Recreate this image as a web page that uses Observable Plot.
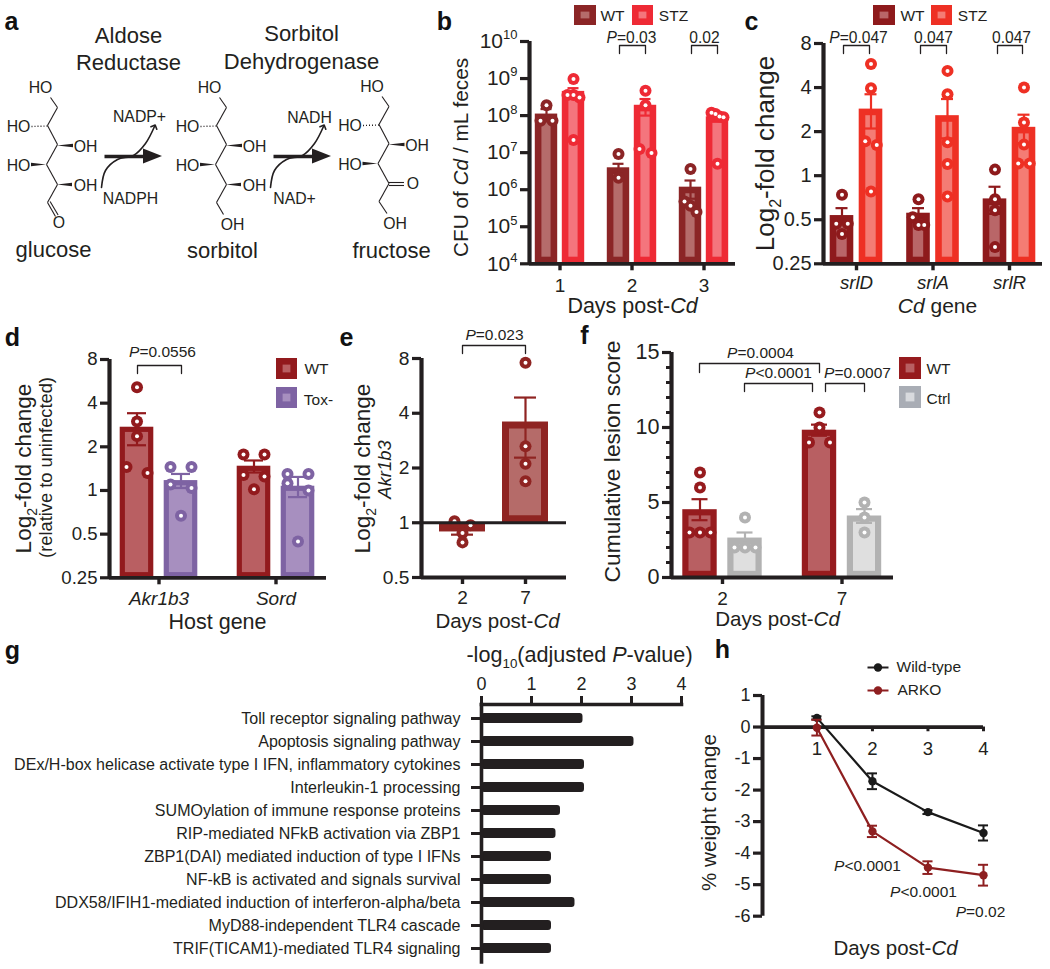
<!DOCTYPE html>
<html><head><meta charset="utf-8">
<script src="https://cdn.jsdelivr.net/npm/d3@7"></script>
<script src="https://cdn.jsdelivr.net/npm/@observablehq/plot@0.6"></script>
<style>
html,body{margin:0;padding:0;background:#fff}
#page{position:relative;width:1050px;height:969px;overflow:hidden;font-family:"Liberation Sans",Arial,sans-serif}
#page svg{position:absolute;overflow:visible;background:none}
</style></head><body><div id="page"></div>
<script>
// ---------- data ----------
const bDays = ["1","2","3"];
const bWTMean = [1.1e8,3.9e6,1.17e6];
const bWTSem = [4e7,1.1e6,6e5];
const bWTPoints = [[1.9e8,7.3e7,7.3e7],[9.2e6,2.1e6],[3.6e6,4.8e5,3.7e5,2.5e5]];
const bSTZMean = [4.5e8,1.9e8,9.3e7];
const bSTZSem = [1e8,9e7,1.7e7];
const bSTZPoints = [[9.7e8,3.6e8,3.6e8,3.1e8,2.2e7],[4.7e8,1.9e8,1.26e7,9.8e6],[1.2e8,1.1e8,9.5e7,9e7,5e6]];

const cGenes = ["*srlD*","*srlA*","*srlR*"];
const cWTMean = [0.534,0.554,0.694];
const cWTSem = [0.066,0.046,0.146];
const cWTPoints = [[0.74,0.47,0.47,0.40],[0.69,0.52,0.46,0.46],[1.1,0.69,0.58,0.325]];
const cSTZMean = [2.85,2.57,2.14];
const cSTZSem = [0.75,0.77,0.47];
const cSTZPoints = [[5.8,3.95,1.72,1.62,0.78],[5.2,3.6,1.69,1.2,0.72],[4.0,2.31,1.63,1.21,1.21]];

const dGenes = ["*Akr1b3*","*Sord*"];
const dWTMean = [2.73,1.47];
const dWTSem = [0.68,0.14];
const dWTPoints = [[5.15,2.99,2.37,1.45,1.32],[1.77,1.77,1.28,1.25,1.02]];
const dToxMean = [1.17,1.07];
const dToxSem = [0.13,0.17];
const dToxPoints = [[1.45,1.45,1.1,1.04,0.67],[1.3,1.3,1.12,1.0,0.445]];

const eDays = ["2","7"];
const eMean = [0.89,3.58];
const eSem = [0.03,1.3];
const ePoints = [[1.02,0.97,0.877,0.78],[7.57,2.63,2.11,1.69]];

const fDays = ["2","7"];
const fWTMean = [4.52,9.82];
const fWTSem = [0.7,0.37];
const fWTPoints = [[7,6,3,3,3],[11,10,9,9]];
const fCtrlMean = [2.63,4.1];
const fCtrlSem = [0.37,0.46];
const fCtrlPoints = [[4,2,2,2],[5,4,3]];

const gTerms = ["Toll receptor signaling pathway","Apoptosis signaling pathway","DEx/H-box helicase activate type I IFN, inflammatory cytokines","Interleukin-1 processing","SUMOylation of immune response proteins","RIP-mediated NFkB activation via ZBP1","ZBP1(DAI) mediated induction of type I IFNs","NF-kB is activated and signals survival","DDX58/IFIH1-mediated induction of interferon-alpha/beta","MyD88-independent TLR4 cascade","TRIF(TICAM1)-mediated TLR4 signaling"];
const gValues = [2.03,3.05,2.06,2.06,1.58,1.49,1.40,1.40,1.87,1.40,1.40];

const hDays = [1,2,3,4];
const hWT = [0.29,-1.72,-2.7,-3.36];
const hWTErr = [0.05,0.25,0.06,0.24];
const hARKO = [-0.02,-3.31,-4.46,-4.7];
const hARKOErr = [0.25,0.18,0.2,0.33];

// ---------- palette ----------
const INK = "#231f20";
const FONT = '"Liberation Sans",Arial,sans-serif';
const page = document.getElementById("page");

// ---------- helpers ----------
function richText(svg){
  svg.querySelectorAll("text").forEach(el=>{
    if(el.querySelector("tspan")) return;
    const s = el.textContent;
    if(!/[*_^]/.test(s)) return;
    const fs = parseFloat(getComputedStyle(el).fontSize)||16;
    const parts = s.match(/\*[^*]+\*|_\{[^}]*\}|\^\{[^}]*\}|[^*_^]+/g)||[];
    el.textContent = "";
    let pending = 0;
    for(const p of parts){
      const t = document.createElementNS("http://www.w3.org/2000/svg","tspan");
      let dy = pending; pending = 0;
      if(p[0]==="*"){t.textContent=p.slice(1,-1);t.setAttribute("font-style","italic");}
      else if(p[0]==="_"){t.textContent=p.slice(2,-1);t.setAttribute("font-size",fs*0.62);dy+=fs*0.28;pending=-fs*0.28;}
      else if(p[0]==="^"){t.textContent=p.slice(2,-1);t.setAttribute("font-size",fs*0.62);dy+=-fs*0.42;pending=fs*0.42;}
      else t.textContent=p;
      if(dy) t.setAttribute("dy",dy);
      el.appendChild(t);
    }
  });
}
function place(svg,left,top){
  svg.style.left=left+"px"; svg.style.top=top+"px";
  page.appendChild(svg); richText(svg);
}
function spread(vals,toPx,thresh,width){
  const order = vals.map((v,i)=>({v,i,p:toPx(v)})).sort((a,b)=>a.p-b.p);
  const off = vals.map(()=>0);
  let cl=[];
  const flush=()=>{
    const n=cl.length;
    if(n>1) cl.forEach((o,k)=>off[o.i]=-width/2+k*width/(n-1));
    cl=[];
  };
  for(const o of order){
    if(cl.length && o.p-cl[cl.length-1].p>=thresh) flush();
    cl.push(o);
  }
  flush();
  return off;
}
function barPanel(c){
  const mL=80,mR=14,mT=24,mB=40;
  const sp=c.spacing, toX=px=>(px-c.c0)/sp;
  const yPx=(c.log?d3.scaleLog().base(c.log):d3.scaleLinear()).domain(c.yDomain).range([c.bottom,c.top]);
  const base=c.base??c.yDomain[0];
  const n=c.series.length;
  const marks=[];
  c.series.forEach((s,si)=>{
    const off=(si-(n-1)/2)*c.offset;
    const bars=s.mean.map((m,g)=>({g,m,e:s.sem[g],cx:g+off/sp}));
    marks.push(Plot.rect(bars,{x1:d=>d.cx-c.barW/2/sp,x2:d=>d.cx+c.barW/2/sp,y1:()=>base,y2:"m",fill:s.light,stroke:s.color,strokeWidth:c.sw,inset:c.sw/2}));
    marks.push(Plot.ruleX(bars,{x:"cx",y1:d=>d.m-d.e,y2:d=>d.m+d.e,stroke:s.color,strokeWidth:2.2}));
    for(const k of [-1,1]) marks.push(Plot.ruleY(bars,{y:d=>d.m+k*d.e,x1:d=>d.cx-c.cap/sp,x2:d=>d.cx+c.cap/sp,stroke:s.color,strokeWidth:2.2}));
    const pts=s.points.flatMap((vals,g)=>{
      const o=spread(vals,yPx,c.thresh,c.spreadW);
      return vals.map((v,i)=>({v,x:g+(off+o[i])/sp}));
    });
    marks.push(Plot.dot(pts,{x:"x",y:"v",r:6,fill:s.color,stroke:"none"}));
    marks.push(Plot.dot(pts,{x:"x",y:"v",r:2,fill:"white",stroke:"none"}));
  });
  const ticks=c.labels.map((_,i)=>i);
  if(c.minor) marks.push(Plot.axisY({ticks:c.minor,tickSize:5,strokeWidth:3,text:null,label:null,stroke:INK}));
  marks.push(
    Plot.axisY({ticks:c.yTicks,tickFormat:c.yFmt,tickSize:c.yTickSize||9,tickPadding:c.yPad??3,strokeWidth:3.2,fontSize:c.yFont,label:null,color:INK}),
    Plot.axisX({ticks,tickFormat:i=>c.labels[i],tickSize:7,tickPadding:c.xPad??6,strokeWidth:3.4,fontSize:c.xFont,label:null,color:INK}),
    Plot.ruleX([toX(c.left)],{strokeWidth:4.2,stroke:INK}),
    Plot.ruleY([c.yDomain[0]],{strokeWidth:3.8,stroke:INK})
  );
  if(c.base) marks.push(Plot.ruleY([c.base],{strokeWidth:3.2,stroke:INK}));
  const svg=Plot.plot({
    width:c.right-c.left+mL+mR,height:c.bottom-c.top+mT+mB,
    marginLeft:mL,marginRight:mR,marginTop:mT,marginBottom:mB,
    style:{fontFamily:FONT,background:"none",overflow:"visible"},
    x:{domain:[toX(c.left),toX(c.right)]},
    y:{type:c.log?"log":"linear",...(c.log?{base:c.log}:{}),domain:c.yDomain},
    marks});
  place(svg,c.left-mL,c.top-mT);
}

// ---------- panel b ----------
barPanel({left:529,right:735,top:40.7,bottom:263,c0:559.5,spacing:72,offset:27,barW:22.4,sw:6.6,cap:5.5,
  log:10,yDomain:[1e4,1e10],yTicks:[1e4,1e5,1e6,1e7,1e8,1e9,1e10],yFmt:d=>"10^{"+Math.round(Math.log10(d))+"}",yFont:21,xFont:19,
  thresh:8,spreadW:12,labels:bDays,xPad:8,
  series:[{color:"#8b2526",light:"#b56c6b",mean:bWTMean,sem:bWTSem,points:bWTPoints},
          {color:"#ee2a35",light:"#f4757d",mean:bSTZMean,sem:bSTZSem,points:bSTZPoints}]});
// ---------- panel c ----------
barPanel({left:823,right:1042,top:42.7,bottom:263,c0:856,spacing:76.5,offset:29,barW:23.6,sw:6.6,cap:6,
  log:2,yDomain:[0.25,8],yTicks:[0.25,0.5,1,2,4,8],yFmt:d=>String(d),yFont:20,xFont:18.7,
  thresh:8,spreadW:11.5,labels:cGenes,xPad:5,
  series:[{color:"#8e1a1c",light:"#b96668",mean:cWTMean,sem:cWTSem,points:cWTPoints},
          {color:"#ee3024",light:"#f47c74",mean:cSTZMean,sem:cSTZSem,points:cSTZPoints}]});
// ---------- panel d ----------
barPanel({left:109,right:326,top:359,bottom:577.3,c0:158.5,spacing:117,offset:44,barW:33.6,sw:5.2,cap:9.5,
  log:2,yDomain:[0.25,8],yTicks:[0.25,0.5,1,2,4,8],yFmt:d=>String(d),yFont:18.6,xFont:19,
  thresh:9,spreadW:21,labels:dGenes,xPad:7,
  series:[{color:"#921a1d",light:"#b95f62",mean:dWTMean,sem:dWTSem,points:dWTPoints},
          {color:"#7e63a3",light:"#a78fbf",mean:dToxMean,sem:dToxSem,points:dToxPoints}]});
// ---------- panel e ----------
barPanel({left:421,right:566,top:358,bottom:577,c0:462,spacing:63,offset:0,barW:46,sw:7,cap:11,
  log:2,yDomain:[0.5,8],yTicks:[0.5,1,2,4,8],yFmt:d=>String(d),yFont:19.2,xFont:19,base:1,
  thresh:5,spreadW:16,labels:eDays,xPad:6,
  series:[{color:"#8f2422",light:"#b56b69",mean:eMean,sem:eSem,points:ePoints}]});
// ---------- panel f ----------
barPanel({left:671,right:893,top:352,bottom:577,c0:722,spacing:119.5,offset:45,barW:34.4,sw:6.2,cap:8,
  yDomain:[0,15],yTicks:[0,5,10,15],yFmt:d=>String(d),yFont:21.6,xFont:19,minor:d3.range(0,16),
  thresh:3,spreadW:21,labels:fDays,xPad:7,yTickSize:9,
  series:[{color:"#961b1e",light:"#b85f62",mean:fWTMean,sem:fWTSem,points:fWTPoints},
          {color:"#b2b2b2",light:"#dfdfdf",mean:fCtrlMean,sem:fCtrlSem,points:fCtrlPoints}]});

// ---------- panel g ----------
{
  const rows=gTerms.map((t,i)=>({t,v:gValues[i]}));
  const mL=481,mT=40;
  place(Plot.plot({
    width:690,height:mT+257.4+6,marginLeft:mL,marginRight:9,marginTop:mT,marginBottom:6,
    style:{fontFamily:FONT,background:"none",overflow:"visible"},
    x:{domain:[0,4]},
    y:{domain:gTerms,paddingInner:0.56,paddingOuter:0.28,align:0.5},
    marks:[
      Plot.barX(rows,{x:"v",y:"t",fill:INK,rx:3}),
      Plot.axisY({anchor:"left",tickSize:10,tickPadding:11,strokeWidth:3,fontSize:16.05,label:null,color:INK,textOverflow:null}),
      Plot.axisX({anchor:"top",ticks:[0,1,2,3,4],tickFormat:d=>String(d),tickSize:9,tickPadding:5,strokeWidth:3,fontSize:18,label:null,color:INK}),
      Plot.frame({anchor:"top",stroke:INK,strokeWidth:3.6}),
      Plot.frame({anchor:"left",stroke:INK,strokeWidth:3.6})
    ]}),0,704.3-mT);
}

// ---------- panel h ----------
{
  const mL=60,mT=20,mB=10,mR=20;
  const series=[{name:"Wild-type",color:"#1a1a1a",v:hWT,e:hWTErr},{name:"ARKO",color:"#8e1f20",v:hARKO,e:hARKOErr}];
  const capX=5/55;
  const marks=[
    Plot.axisY({ticks:d3.range(-6,2),tickFormat:d=>String(d),tickSize:9,tickPadding:3,strokeWidth:3.2,fontSize:18,label:null,color:INK}),
    Plot.ruleX([0.02],{stroke:INK,strokeWidth:4}),
    Plot.ruleY([0],{stroke:INK,strokeWidth:3.8}),
    Plot.ruleX(hDays,{x:d=>d,y1:()=>0,y2:()=>-0.15,stroke:INK,strokeWidth:3}),
    Plot.text(hDays,{x:d=>d,y:()=>0,dy:22,text:d=>String(d),fontSize:18.6,fill:INK})
  ];
  for(const s of series){
    const r=hDays.map((d,i)=>({d,v:s.v[i],e:s.e[i]}));
    marks.push(
      Plot.line(r,{x:"d",y:"v",stroke:s.color,strokeWidth:2.2}),
      Plot.ruleX(r,{x:"d",y1:d=>d.v-d.e,y2:d=>d.v+d.e,stroke:s.color,strokeWidth:2}),
      Plot.ruleY(r,{y:d=>d.v-d.e,x1:d=>d.d-capX,x2:d=>d.d+capX,stroke:s.color,strokeWidth:2}),
      Plot.ruleY(r,{y:d=>d.v+d.e,x1:d=>d.d-capX,x2:d=>d.d+capX,stroke:s.color,strokeWidth:2}),
      Plot.dot(r,{x:"d",y:"v",r:4.2,fill:s.color,stroke:"none"})
    );
  }
  place(Plot.plot({
    width:mL+221+mR,height:mT+220.7+mB,marginLeft:mL,marginRight:mR,marginTop:mT,marginBottom:mB,
    style:{fontFamily:FONT,background:"none",overflow:"visible"},
    x:{domain:[0.02,4],axis:null},y:{domain:[-6,1]},marks}),762-mL,695-mT);
}

// ---------- overlay: letters, axis titles, annotations, schematic ----------
const ov=[];
function T(text,x,y,size,o={}){
  ov.push(Plot.text([text],{x:()=>x,y:()=>y,text:d=>d,fontSize:size,fill:INK,textAnchor:"middle",...o}));
}
function L(x1,y1,x2,y2,w=1.1,o={}){
  ov.push(Plot.link([0],{x1:()=>x1,y1:()=>y1,x2:()=>x2,y2:()=>y2,stroke:INK,strokeWidth:w,...o}));
}
function bracket(x1,x2,y,drop){
  ov.push(Plot.line([[x1,y+drop],[x1,y],[x2,y],[x2,y+drop]],{x:d=>d[0],y:d=>d[1],stroke:INK,strokeWidth:1.3}));
}
function swatch(x1,y1,x2,y2,color,light){
  ov.push(Plot.rect([0],{x1:()=>x1+3.3,x2:()=>x2-3.3,y1:()=>y1+3.3,y2:()=>y2-3.3,fill:light,stroke:color,strokeWidth:6.6}));
}
function wedge(xBase,xTip,y){
  ov.push(Plot.areaY([{x:xBase,a:y,b:y},{x:xTip,a:y-1.7,b:y+1.7}],{x:"x",y1:"a",y2:"b",fill:INK}));
}
// panel letters
[["a",11,21],["b",444,21],["c",751,21],["d",12,337],["e",346,337],["f",584,335],["g",12,650],["h",722,649]]
  .forEach(([t,x,y])=>T(t,x,y,25,{fontWeight:"bold",fill:"#111"}));

// panel a
const chemFont=15.8;
T("Aldose",128,35,22);T("Reductase",128,62,22);
T("Sorbitol",301,33,22);T("Dehydrogenase",301,61,22);
T("glucose",53,249,22);T("sorbitol",222,250,22);T("fructose",391,250,22);
function chain(ox,dy,kind){
  const pts=[[50,97],[57,107],[47,125],[57,144],[46,164],[57,184],[47,202]].map(([x,y])=>[x+ox,y+dy]);
  pts.slice(1).forEach((p,i)=>L(pts[i][0],pts[i][1],p[0],p[1]));
  T("HO",40+ox,87.5+dy,chemFont);
  T("HO",18+ox,126.5+dy,chemFont);
  T("OH",85+ox,146+dy,chemFont);
  T("HO",18+ox,165+dy,chemFont);
  L(47+ox,125.5+dy,30+ox,126+dy,1.4,{strokeDasharray:"1,2"});
  wedge(57+ox,73+ox,145.5+dy);
  wedge(46+ox,31+ox,164.5+dy);
  if(kind==="glucose"){
    wedge(57+ox,72+ox,184.5+dy);T("OH",85+ox,185+dy,chemFont);
    L(47+ox,202+dy,55+ox,216+dy);L(49.6+ox,201+dy,57.6+ox,214.5+dy);T("O",58.5+ox,222.5+dy,chemFont);
  } else if(kind==="sorbitol"){
    wedge(57+ox,72+ox,184.5+dy);T("OH",85+ox,185+dy,chemFont);
    L(47+ox,202+dy,54+ox,214+dy);T("OH",63+ox,224+dy,chemFont);
  } else {
    L(57+ox,183+dy,72+ox,183+dy);L(57+ox,186+dy,72+ox,186+dy);T("O",81+ox,184.5+dy,chemFont);
    L(47+ox,202+dy,55+ox,214+dy);T("OH",63+ox,224+dy,chemFont);
  }
}
chain(0,0,"glucose");chain(169,0,"sorbitol");chain(331.5,-1,"fructose");
function rxnArrow(ox){
  L(104+ox,156,146+ox,156,3.6);
  ov.push(Plot.areaY([{x:143+ox,a:148.5,b:163.5},{x:162+ox,a:156,b:156}],{x:"x",y1:"a",y2:"b",fill:INK}));
  ov.push(Plot.line([[101,187],[105,170],[117,159],[133,155],[145,143],[154,126]].map(([x,y])=>[x+ox,y]),
    {x:d=>d[0],y:d=>d[1],curve:"catmull-rom",stroke:INK,strokeWidth:1.6,markerEnd:"arrow"}));
}
rxnArrow(0);rxnArrow(169);
T("NADP+",139,116,chemFont);T("NADPH",130,198,chemFont);
T("NADH",309,117,chemFont);T("NAD+",294,198,chemFont);

// panel b
swatch(574,5,596,25,"#8b2526","#b56c6b");T("WT",612,16,15.5);
swatch(632,5,653,25,"#ee2a35","#f4757d");T("STZ",673,16,15.5);
bracket(619,645,45,8);T("*P*=0.03",631,37,15.6);
bracket(691,717,45,8);T("0.02",704,37,15.6);
T("CFU of *Cd* / mL feces",461,157,20.8,{rotate:-90});
T("Days post-*Cd*",632,306,21.5);
// panel c
swatch(873,5,895,25,"#8e1a1c","#b96668");T("WT",912,16,15.5);
swatch(931,5,952,25,"#ee3024","#f47c74");T("STZ",972,16,15.5);
bracket(843,869,45,8);T("*P*=0.047",858,37,15.6);
bracket(920,946,45,8);T("0.047",933,37,15.6);
bracket(997,1022,45,8);T("0.047",1011,37,15.6);
T("Log_{2}-fold change",765,153,26,{rotate:-90});
T("*Cd* gene",937,306,21);
// panel d
swatch(276,358,297,379,"#921a1d","#b95f62");T("WT",316,369,15.5);
swatch(276,387,297,408,"#7e63a3","#a78fbf");T("Tox-",318,400,15.5);
bracket(137,181,365,8);T("*P*=0.0556",162,352,15.5);
T("Log_{2}-fold change",23,468,22.6,{rotate:-90});
T("(relative to uninfected)",46,467,18.3,{rotate:-90});
T("Host gene",217,622,21.5);
// panel e
bracket(462,525,345,8);T("*P*=0.023",494,335,15.5);
T("Log_{2}-fold change",362,468,22.6,{rotate:-90});
T("*Akr1b3*",385,469,18.4,{rotate:-90});
T("Days post-*Cd*",497,621,20.5);
// panel f
swatch(899,357,921,379,"#961b1e","#b85f62");T("WT",938,369,15.5);
swatch(899,386,921,408,"#a9adb5","#d8dade");T("Ctrl",938,399,15.5);
bracket(699,819,363,9);T("*P*=0.0004",760,353,15.5);
bracket(744,812,383,8);T("*P*<0.0001",778,373,15.5);
bracket(825,864,383,8);T("*P*=0.0007",857,373,15.5);
T("Cumulative lesion score",612,461,22.8,{rotate:-90});
T("Days post-*Cd*",777,619,20.6);
// panel g
T("-log_{10}(adjusted *P*-value)",579,655,21.6);
// panel h
L(867,667,888,667,2);ov.push(Plot.dot([0],{x:()=>877.5,y:()=>667,r:4.2,fill:"#1a1a1a",stroke:"none"}));
L(867,690,888,690,2,{stroke:"#8e1f20"});ov.push(Plot.dot([0],{x:()=>877.5,y:()=>690,r:4.2,fill:"#8e1f20",stroke:"none"}));
T("Wild-type",896,667,15.5,{textAnchor:"start"});T("ARKO",897,690,15.5,{textAnchor:"start"});
T("*P*<0.0001",867,866,15.5);T("*P*<0.0001",923,892,15.5);T("*P*=0.02",980,912,15.5);
T("% weight change",709,812,20.6,{rotate:-90});
T("Days post-*Cd*",895,948,20.5);

place(Plot.plot({
  width:1050,height:969,margin:0,
  style:{fontFamily:FONT,background:"none",overflow:"visible"},
  x:{domain:[0,1050],range:[0,1050],axis:null},
  y:{domain:[0,969],range:[0,969],axis:null},
  marks:ov}),0,0);
</script></body></html>
